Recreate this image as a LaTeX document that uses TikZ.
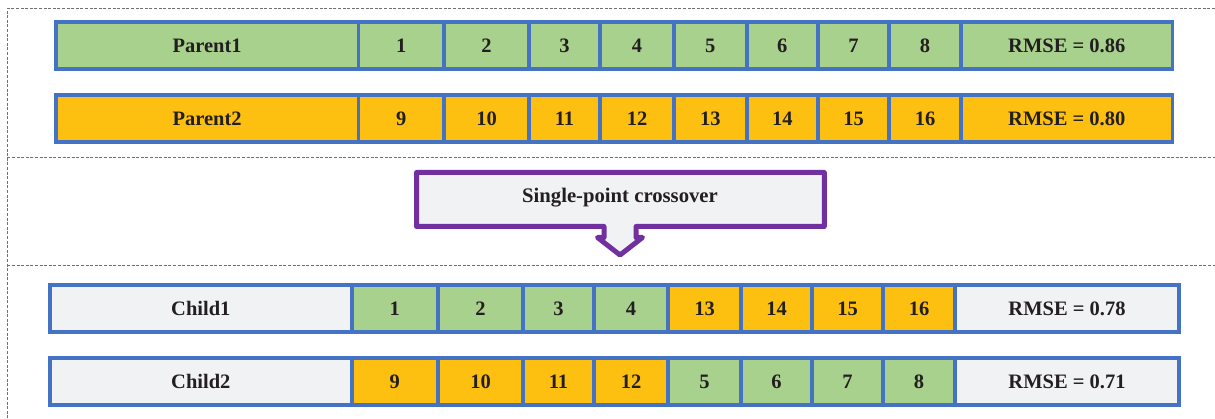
\documentclass[tikz,border=0pt]{standalone}
\usepackage{fontspec}
\setmainfont{Liberation Serif}
\definecolor{cgreen}{HTML}{A9D18E}
\definecolor{cgold}{HTML}{FDC010}
\definecolor{cblue}{HTML}{4472C4}
\definecolor{clight}{HTML}{F1F2F4}
\definecolor{cpurple}{HTML}{7030A0}
\definecolor{ctext}{HTML}{231F20}
\definecolor{cdash}{HTML}{6F6F6F}
\newcommand\generow[3]{%
  \foreach \xa/\xb/\t/\c [count=\i] in {#3} {%
    \node[cell, fill=\c, minimum width={(\xb-\xa)*1pt}] (#1\i) at ({(\xa+\xb)/2},#2) {\t};%
  }%
}
\begin{document}
\begin{tikzpicture}[x=1pt,y=-1pt,
  cell/.style={draw=cblue, line width=3.6pt, inner sep=0pt, text=ctext,
    font=\bfseries\fontsize{20.5}{24}\selectfont, text height=13.6pt, text depth=0pt,
    minimum height=47pt},
  sepline/.style={draw=cdash, line width=0.9pt, dash pattern=on 3pt off 1.6pt},
  callout/.style={draw=cpurple, fill=clight, line width=5pt, line join=round},
  callouttext/.style={inner sep=0pt, text=ctext, font=\bfseries\fontsize{20.7}{24}\selectfont,
    text height=13.7pt, text depth=0pt}]
\useasboundingbox (0,0) rectangle (1215,419);
% dashed frame lines
\draw[sepline] (1215,8.5) -- (7.3,8.5) -- (7.3,419);
\draw[sepline] (7.3,157.5) -- (1215,157.5);
\draw[sepline] (7.3,265) -- (1215,265);
% parents
\generow{pa}{45.5}{56/358.3/Parent1/cgreen, 358.3/444/1/cgreen, 444/529/2/cgreen, 529/600/3/cgreen,
  600/674/4/cgreen, 674/746.7/5/cgreen, 746.7/818/6/cgreen, 818/889/7/cgreen, 889/961/8/cgreen,
  961/1172.5/RMSE = 0.86/cgreen}
\generow{pb}{118.5}{56/358.3/Parent2/cgold, 358.3/444/9/cgold, 444/529/10/cgold, 529/600/11/cgold,
  600/674/12/cgold, 674/746.7/13/cgold, 746.7/818/14/cgold, 818/889/15/cgold, 889/961/16/cgold,
  961/1172.5/RMSE = 0.80/cgold}
% callout
\draw[callout] (416.5,172.5) -- (824.3,172.5) -- (824.3,226.5) -- (636,226.5) -- (636,237.5)
  -- (642.5,237.5) -- (620,255) -- (597.5,237.5) -- (604,237.5) -- (604,226.5)
  -- (416.5,226.5) -- cycle;
\node[callouttext] (cross) at (620,196) {Single-point crossover};
% children
\generow{ca}{308.8}{50/351.7/Child1/clight, 351.7/438/1/cgreen, 438/523/2/cgreen, 523/594/3/cgreen,
  594/668/4/cgreen, 668/741/13/cgold, 741/812/14/cgold, 812/883/15/cgold, 883/955/16/cgold,
  955/1179/RMSE = 0.78/clight}
\generow{cb}{381.7}{50/351.7/Child2/clight, 351.7/438/9/cgold, 438/523/10/cgold, 523/594/11/cgold,
  594/668/12/cgold, 668/741/5/cgreen, 741/812/6/cgreen, 812/883/7/cgreen, 883/955/8/cgreen,
  955/1179/RMSE = 0.71/clight}
\end{tikzpicture}
\end{document}
